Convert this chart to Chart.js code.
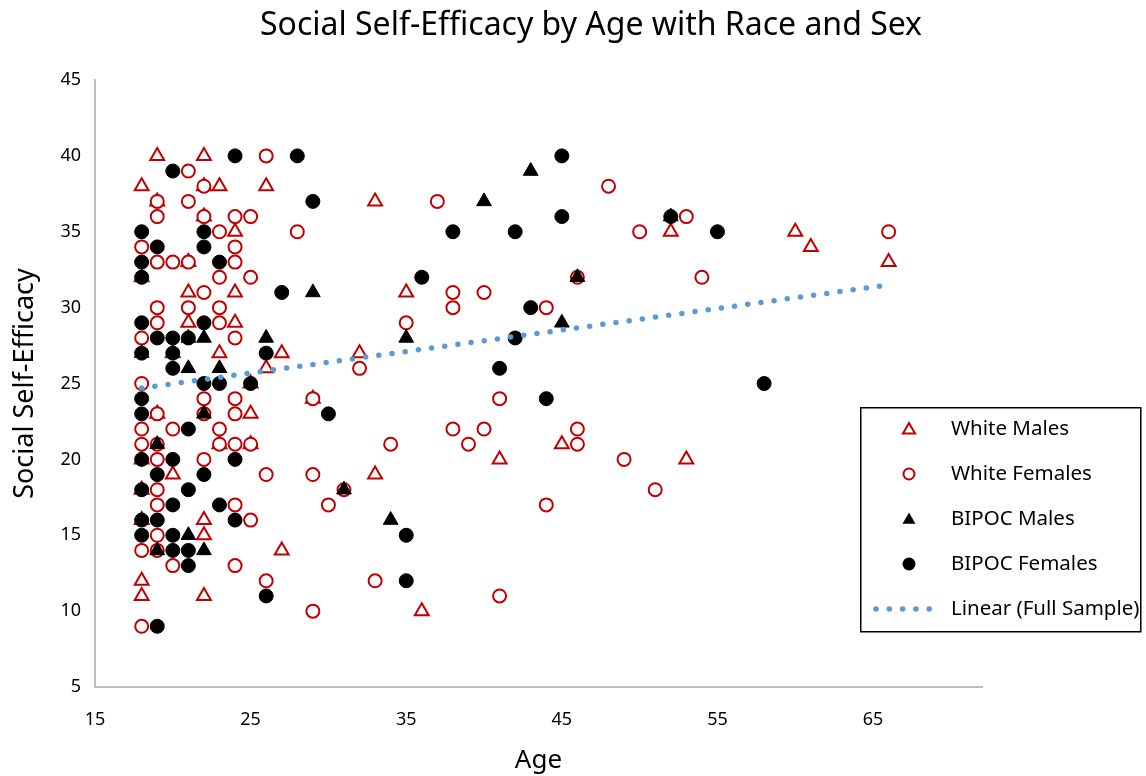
<!DOCTYPE html>
<html>
<head>
<meta charset="utf-8">
<script src="https://cdn.jsdelivr.net/npm/chart.js@4.4.1/dist/chart.umd.min.js"></script>
<style>
    html, body { margin: 0; padding: 0; background: #fff; }
    #wrap { width: 1146px; height: 776px; }
</style>
</head>
<body>
<div id="wrap"><canvas id="sseChart" width="1146" height="776"></canvas></div>
<script>
// --- values (age, social self-efficacy) ---
const whiteMaleAge = [19, 22, 18, 22, 23, 26, 19, 22, 24, 21, 18, 21, 24, 21, 24, 20, 23, 27, 26, 25,
    19, 25, 23, 25, 18, 20, 18, 18, 22, 22, 27, 18, 18, 22, 33, 35, 52, 60, 61, 66, 32, 29, 45, 41, 33, 36, 53];
const whiteMaleSSE = [40, 40, 38, 38, 38, 38, 37, 36, 35, 33, 32, 31, 31, 29, 29, 27, 27, 27, 26, 25,
    23, 23, 21, 21, 20, 19, 18, 16, 16, 15, 14, 12, 11, 11, 37, 31, 35, 35, 34, 33, 27, 24, 21, 20, 19, 10, 20];

const whiteFemaleAge = [26, 21, 22, 19, 21, 19, 22, 24, 25, 23, 28, 18, 24, 19, 20, 21, 24, 23, 25, 22,
    19, 21, 23, 19, 23, 18, 24, 18, 22, 24, 19, 22, 24, 18, 20, 23, 18, 19, 23, 24,
    25, 19, 22, 26, 19, 19, 24, 25, 19, 18, 19, 20, 24, 26, 18, 37, 38, 40, 38, 44,
    35, 32, 29, 41, 38, 40, 34, 39, 29, 31, 30, 44, 33, 41, 29, 48, 53, 50, 66, 46,
    54, 46, 46, 49, 51];
const whiteFemaleSSE = [40, 39, 38, 37, 37, 36, 36, 36, 36, 35, 35, 34, 34, 33, 33, 33, 33, 32, 32, 31,
    30, 30, 30, 29, 29, 28, 28, 25, 24, 24, 23, 23, 23, 22, 22, 22, 21, 21, 21, 21,
    21, 20, 20, 19, 18, 17, 17, 16, 15, 14, 14, 13, 13, 12, 9, 37, 31, 31, 30, 30,
    29, 26, 24, 24, 22, 22, 21, 21, 19, 18, 17, 17, 12, 11, 10, 38, 36, 35, 35, 32,
    32, 22, 21, 20, 18];

const bipocMaleAge = [21, 22, 26, 18, 21, 23, 22, 19, 21, 19, 22, 43, 40, 29, 45, 35, 31, 34, 52, 46];
const bipocMaleSSE = [28, 28, 28, 27, 26, 26, 23, 21, 15, 14, 14, 39, 37, 31, 29, 28, 18, 16, 36, 32];

const bipocFemaleAge = [24, 20, 18, 22, 19, 22, 18, 23, 18, 27, 18, 22, 19, 20, 21, 18, 20, 26, 20, 22,
    23, 25, 18, 18, 21, 18, 20, 24, 19, 22, 18, 21, 20, 23, 18, 19, 24, 18, 20, 20,
    21, 21, 26, 19, 28, 45, 29, 45, 38, 42, 36, 43, 42, 41, 30, 44, 35, 35, 52, 55, 58];
const bipocFemaleSSE = [40, 39, 35, 35, 34, 34, 33, 33, 32, 31, 29, 29, 28, 28, 28, 27, 27, 27, 26, 25,
    25, 25, 24, 23, 22, 20, 20, 20, 19, 19, 18, 18, 17, 17, 16, 16, 16, 15, 15, 14,
    14, 13, 11, 9, 40, 40, 37, 36, 35, 35, 32, 30, 28, 26, 23, 24, 15, 12, 36, 35, 25];

// linear trend of the full sample, ends
const trendAge = [18, 66];
const trendSSE = [24.7, 31.5];

const xTicks = [15, 25, 35, 45, 55, 65];
const yTicks = [5, 10, 15, 20, 25, 30, 35, 40, 45];

const TITLE = "Social Self-Efficacy by Age with Race and Sex";
const FONT = '"Noto Sans", sans-serif';
const RED = "#C00000";
const BLUE = "#5B9BD5";

const toPoints = (xs, ys) => xs.map((x, i) => ({ x: x, y: ys[i] }));

// --- title over the whole canvas + boxed legend over the right side of the plot ---
const boxLegend = {
    id: "boxLegend",
    afterDraw(chart) {
        const ctx = chart.ctx;
        ctx.save();

        ctx.fillStyle = "#000";
        ctx.font = "32px " + FONT;
        ctx.textAlign = "center";
        ctx.textBaseline = "middle";
        ctx.fillText(TITLE, 591, 26);

        ctx.fillStyle = "#fff";
        ctx.fillRect(860, 407, 281, 225);
        ctx.strokeStyle = "#000";
        ctx.lineWidth = 1.5;
        ctx.strokeRect(860.75, 407.75, 280, 224);

        const mx = 909;
        const rowY = (i) => 429 + i * 45;

        const tri = (cx, cy, r) => {
            ctx.beginPath();
            ctx.moveTo(cx, cy - r);
            ctx.lineTo(cx + r * 0.866, cy + r * 0.5);
            ctx.lineTo(cx - r * 0.866, cy + r * 0.5);
            ctx.closePath();
        };

        // white males
        tri(mx, rowY(0) + 1, 7);
        ctx.fillStyle = "#fff";
        ctx.fill();
        ctx.strokeStyle = RED;
        ctx.lineWidth = 2;
        ctx.stroke();

        // white females
        ctx.beginPath();
        ctx.arc(mx, rowY(1), 5.5, 0, Math.PI * 2);
        ctx.stroke();

        // bipoc males
        tri(mx, rowY(2) + 1, 7.5);
        ctx.fillStyle = "#000";
        ctx.fill();

        // bipoc females
        ctx.beginPath();
        ctx.arc(mx, rowY(3), 6.5, 0, Math.PI * 2);
        ctx.fill();

        // trend dots
        ctx.fillStyle = BLUE;
        for (let i = 0; i < 5; i++) {
            ctx.beginPath();
            ctx.arc(876 + i * 13.3, rowY(4), 2.8, 0, Math.PI * 2);
            ctx.fill();
        }

        const labels = ["White Males", "White Females", "BIPOC Males", "BIPOC Females", "Linear (Full Sample)"];
        ctx.fillStyle = "#000";
        ctx.font = "20.5px " + FONT;
        ctx.textAlign = "left";
        labels.forEach((t, i) => ctx.fillText(t, 951, rowY(i)));
        ctx.restore();
    },
};

new Chart(document.getElementById("sseChart"), {
    type: "scatter",
    data: {
        datasets: [
            {
                label: "White Males",
                data: toPoints(whiteMaleAge, whiteMaleSSE),
                pointStyle: "triangle",
                pointRadius: 8,
                borderColor: RED,
                backgroundColor: "#fff",
                borderWidth: 2,
                order: 4,
            },
            {
                label: "White Females",
                data: toPoints(whiteFemaleAge, whiteFemaleSSE),
                pointStyle: "circle",
                pointRadius: 6.5,
                borderColor: RED,
                backgroundColor: "#fff",
                borderWidth: 2,
                order: 3,
            },
            {
                label: "BIPOC Males",
                data: toPoints(bipocMaleAge, bipocMaleSSE),
                pointStyle: "triangle",
                pointRadius: 8.5,
                borderColor: "#000",
                backgroundColor: "#000",
                borderWidth: 1,
                order: 2,
            },
            {
                label: "BIPOC Females",
                data: toPoints(bipocFemaleAge, bipocFemaleSSE),
                pointStyle: "circle",
                pointRadius: 7,
                borderColor: "#000",
                backgroundColor: "#000",
                borderWidth: 1,
                order: 1,
            },
            {
                label: "Linear (Full Sample)",
                type: "line",
                data: toPoints(trendAge, trendSSE),
                showLine: true,
                pointRadius: 0,
                borderColor: BLUE,
                borderWidth: 5.5,
                borderDash: [0, 13.3],
                borderCapStyle: "round",
                fill: false,
                order: 0,
            },
        ],
    },
    options: {
        responsive: false,
        animation: false,
        events: [],
        layout: { padding: { left: 0, right: 164, top: 80, bottom: 0 } },
        plugins: {
            legend: { display: false },
            tooltip: { enabled: false },
            title: { display: false },
        },
        scales: {
            x: {
                type: "linear",
                min: 15,
                max: 72,
                afterBuildTicks: (s) => { s.ticks = xTicks.map((v) => ({ value: v })); },
                afterFit: (s) => { s.height = 89; },
                grid: { display: false, drawTicks: false },
                border: { display: true, color: "#BFBFBF", width: 2 },
                ticks: { color: "#000", padding: 22, font: { family: FONT, size: 18 } },
                title: {
                    display: true,
                    text: "Age",
                    color: "#000",
                    font: { family: FONT, size: 26 },
                    padding: { top: 0, bottom: 0 },
                },
            },
            y: {
                type: "linear",
                min: 5,
                max: 45,
                afterBuildTicks: (s) => { s.ticks = yTicks.map((v) => ({ value: v })); },
                afterFit: (s) => { s.width = 95; },
                grid: { display: false, drawTicks: false },
                border: { display: true, color: "#BFBFBF", width: 2 },
                ticks: { color: "#000", padding: 14, font: { family: FONT, size: 18 } },
                title: {
                    display: true,
                    text: "Social Self-Efficacy",
                    color: "#000",
                    font: { family: FONT, size: 27 },
                    padding: { top: 9, bottom: 0 },
                },
            },
        },
    },
    plugins: [boxLegend],
});
</script>
</body>
</html>
